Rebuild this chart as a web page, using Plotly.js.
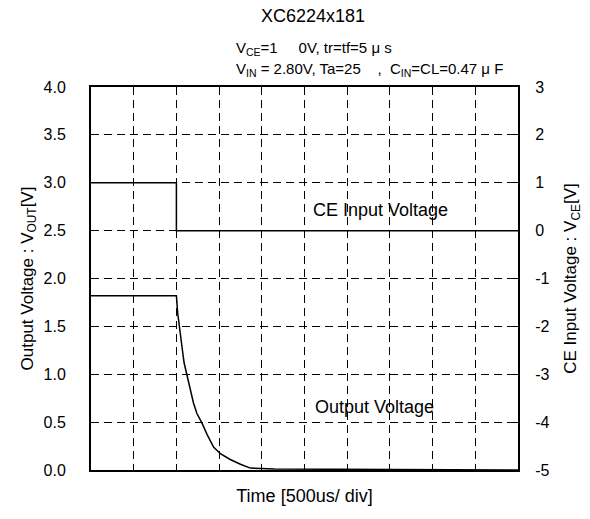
<!DOCTYPE html>
<html>
<head>
<meta charset="utf-8">
<script src="https://cdn.plot.ly/plotly-3.0.1.min.js"></script>
<style>html,body{margin:0;padding:0;background:#fff;}</style>
</head>
<body>
<div id="chart" style="width:590px;height:519px;"></div>
<script>
// Time axis in divisions (500us/div)
const ceTime = [0, 2.0, 2.0, 10];
const ceVolt = [1.0, 1.0, 0.0, 0.0];

const outTime = [0, 2.0, 2.03, 2.07, 2.13, 2.18, 2.25, 2.32, 2.40, 2.48, 2.60, 2.72, 2.87, 3.03, 3.26, 3.50, 3.73, 4.3, 10];
const outVolt = [1.82, 1.82, 1.64, 1.47, 1.29, 1.12, 0.98, 0.84, 0.70, 0.59, 0.49, 0.37, 0.24, 0.17, 0.11, 0.06, 0.02, 0.01, 0.0];

const leftTicks = [0, 0.5, 1, 1.5, 2, 2.5, 3, 3.5, 4];
const leftTickText = ['0.0', '0.5', '1.0', '1.5', '2.0', '2.5', '3.0', '3.5', '4.0'];
const rightTicks = [-5, -4, -3, -2, -1, 0, 1, 2, 3];
const rightTickText = ['-5', '-4', '-3', '-2', '-1', '0', '1', '2', '3'];

const FONT = 'Liberation Sans, Arial, sans-serif';

const traces = [
  {x: ceTime, y: ceVolt, yaxis: 'y2', mode: 'lines', line: {color: '#000', width: 1.5}, hoverinfo: 'skip', showlegend: false},
  {x: outTime, y: outVolt, yaxis: 'y', mode: 'lines', line: {color: '#000', width: 1.5}, hoverinfo: 'skip', showlegend: false}
];

const layout = {
  width: 590, height: 519,
  margin: {l: 91, r: 72, t: 87, b: 49, pad: 0},
  paper_bgcolor: '#fff', plot_bgcolor: '#fff',
  font: {family: FONT, color: '#000', size: 16},
  showlegend: false,
  title: {text: 'XC6224x181', font: {size: 18, family: FONT, color: '#000'}, x: 0.52, xref: 'paper', y: 0.97, yanchor: 'middle'},
  xaxis: {
    range: [0, 10], dtick: 1, tick0: 0, showticklabels: false,
    ticks: 'inside', ticklen: 5, tickcolor: '#000', tickwidth: 1,
    showgrid: true, gridcolor: '#000', gridwidth: 1, griddash: '8px,5px',
    showline: true, linecolor: '#000', linewidth: 2, mirror: true,
    zeroline: false,
    title: {text: 'Time [500us/ div]', font: {size: 18, family: FONT}, standoff: 18}
  },
  yaxis: {
    range: [0, 4], tickvals: leftTicks, ticktext: leftTickText,
    ticks: 'inside', ticklen: 6, tickcolor: '#000', tickwidth: 1,
    showgrid: true, gridcolor: '#000', gridwidth: 1, griddash: '8px,5px',
    showline: true, linecolor: '#000', linewidth: 2,
    zeroline: false, ticklabelstandoff: 20,
    tickfont: {size: 16, family: FONT},
    title: {text: 'Output Voltage : V<sub>OUT</sub>[V]', font: {size: 17, family: FONT}, standoff: 6}
  },
  yaxis2: {
    range: [-5, 3], tickvals: rightTicks, ticktext: rightTickText,
    overlaying: 'y', side: 'right',
    ticks: 'inside', ticklen: 6, tickcolor: '#000', tickwidth: 1,
    showgrid: false,
    showline: true, linecolor: '#000', linewidth: 2,
    zeroline: false, ticklabelstandoff: 12,
    tickfont: {size: 16, family: FONT},
    title: {text: 'CE Input Voltage : V<sub>CE</sub>[V]', font: {size: 17, family: FONT}, standoff: 16}
  },
  annotations: [
    {text: 'V<sub>CE</sub>=1     0V, tr=tf=5 μ s', xref: 'paper', yref: 'paper', x: 0.335, y: 1.10, xanchor: 'left', yanchor: 'middle', showarrow: false, font: {size: 15, family: FONT}},
    {text: 'V<sub>IN</sub> = 2.80V, Ta=25    ,  C<sub>IN</sub>=CL=0.47 μ F', xref: 'paper', yref: 'paper', x: 0.335, y: 1.045, xanchor: 'left', yanchor: 'middle', showarrow: false, font: {size: 15, family: FONT}},
    {text: 'CE Input Voltage', xref: 'x', yref: 'y', x: 6.79, y: 2.72, showarrow: false, font: {size: 18, family: FONT}},
    {text: 'Output Voltage', xref: 'x', yref: 'y', x: 6.64, y: 0.66, showarrow: false, font: {size: 18, family: FONT}}
  ]
};

Plotly.newPlot('chart', traces, layout, {staticPlot: true, displayModeBar: false});
</script>
</body>
</html>
